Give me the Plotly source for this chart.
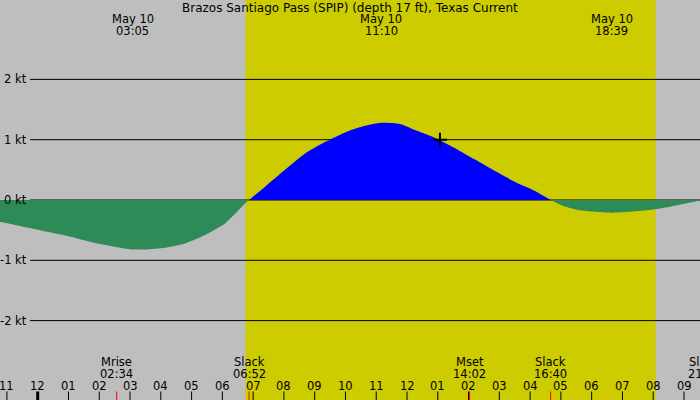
import plotly.graph_objects as go

# hours after midnight May 10, current in knots
ebb1_t = [-1.225, -0.575, 0.075, 0.725, 1.375, 2.025, 2.674, 3.083, 3.487, 4.137, 4.787, 5.437, 6.087, 6.737, 6.867]
ebb1_v = [-0.36, -0.43, -0.50, -0.57, -0.65, -0.73, -0.79, -0.82, -0.82, -0.79, -0.72, -0.58, -0.39, -0.06, 0.0]

flood_t = [6.867, 7.387, 8.037, 8.687, 9.337, 9.987, 10.637, 11.167, 11.775, 12.262, 12.912, 13.562, 14.212, 14.862, 15.512, 16.162, 16.667]
flood_v = [0.0, 0.22, 0.50, 0.77, 0.96, 1.12, 1.23, 1.28, 1.26, 1.16, 1.03, 0.86, 0.67, 0.48, 0.30, 0.15, 0.0]

ebb2_t = [16.667, 17.08, 17.62, 18.65, 19.79, 20.55, 21.52]
ebb2_v = [0.0, -0.10, -0.17, -0.21, -0.17, -0.11, -0.01]

now_t = [13.07]
now_v = [1.0]

# daylight
sunrise = 6.75
sunset = 20.08

# hour ticks along the bottom
hour_vals = list(range(-1, 22))
hour_text = ["11", "12", "01", "02", "03", "04", "05", "06", "07", "08", "09", "10",
             "11", "12", "01", "02", "03", "04", "05", "06", "07", "08", "09"]

# events along the bottom
event_names = ["Mrise", "Slack", "Mset", "Slack", "Slack"]
event_times = ["02:34", "06:52", "14:02", "16:40", "21:40"]
event_vals = [2.567, 6.867, 14.033, 16.667, 21.667]

# max current labels along the top
peak_dates = ["May 10", "May 10", "May 10"]
peak_times = ["03:05", "11:10", "18:39"]
peak_vals = [3.083, 11.167, 18.65]

kt_levels = [2, 1, 0, -1, -2]

x0, x1 = -1.225, 21.52
W, H = 700, 400
font = dict(family="DejaVu Sans", size=11.5, color="black")

fig = go.Figure()

fig.add_trace(go.Scatter(x=ebb1_t, y=ebb1_v, mode="lines", fill="tozeroy",
                         line=dict(width=0, shape="spline", smoothing=0.6),
                         fillcolor="#2e8b57", hoverinfo="skip"))
fig.add_trace(go.Scatter(x=flood_t, y=flood_v, mode="lines", fill="tozeroy",
                         line=dict(width=0, shape="spline", smoothing=0.6),
                         fillcolor="#0000ff", hoverinfo="skip"))
fig.add_trace(go.Scatter(x=ebb2_t, y=ebb2_v, mode="lines", fill="tozeroy",
                         line=dict(width=0, shape="spline", smoothing=0.6),
                         fillcolor="#2e8b57", hoverinfo="skip"))
fig.add_trace(go.Scatter(x=now_t, y=now_v, mode="markers",
                         marker=dict(symbol="cross-thin", size=10,
                                     line=dict(width=2, color="black")),
                         hoverinfo="skip"))

shapes = [dict(type="rect", xref="x", yref="paper", x0=sunrise, x1=sunset, y0=0, y1=1,
               fillcolor="#cccc00", line=dict(width=0), layer="below")]
for k in kt_levels:
    shapes.append(dict(type="line", xref="paper", yref="y", x0=30 / W, x1=1, y0=k, y1=k,
                       line=dict(color="black", width=1), layer="below"))
for h in hour_vals:
    shapes.append(dict(type="line", xref="x", yref="paper", x0=h, x1=h, y0=0, y1=8.5 / H,
                       line=dict(color="black", width=3 if h == 0 else 1)))
for t in event_vals:
    shapes.append(dict(type="line", xref="x", yref="paper", x0=t, x1=t, y0=0, y1=8.5 / H,
                       line=dict(color="red", width=1)))

ann = []
ann.append(dict(text="Brazos Santiago Pass (SPIP) (depth 17 ft), Texas Current",
                xref="paper", yref="paper", x=0.5, y=1 - 7.5 / H, showarrow=False,
                xanchor="center", yanchor="middle",
                font=dict(family="DejaVu Sans", size=12, color="black")))
for k in kt_levels:
    ann.append(dict(text=f"{k} kt", xref="paper", yref="y", x=28.5 / W, y=k,
                    showarrow=False, xanchor="right", yanchor="middle", font=font))
for h, s in zip(hour_vals, hour_text):
    ann.append(dict(text=s, xref="x", yref="paper", x=h, y=1 - 385.5 / H,
                    showarrow=False, xanchor="center", yanchor="middle", font=font))
for name, tm, t in zip(event_names, event_times, event_vals):
    px = (t - x0) / (x1 - x0)
    for s, yy in ((name, 361.5), (tm, 373.5)):
        ann.append(dict(text=s, xref="paper", yref="paper", x=px, y=1 - yy / H,
                        showarrow=False, xanchor="center", yanchor="middle", font=font))
for d, tm, t in zip(peak_dates, peak_times, peak_vals):
    for s, yy in ((d, 19.5), (tm, 31.5)):
        ann.append(dict(text=s, xref="x", yref="paper", x=t, y=1 - yy / H,
                        showarrow=False, xanchor="center", yanchor="middle", font=font))

fig.update_layout(
    width=W, height=H,
    margin=dict(l=0, r=0, t=0, b=0),
    paper_bgcolor="#bebebe", plot_bgcolor="#bebebe",
    showlegend=False,
    xaxis=dict(range=[x0, x1], visible=False, fixedrange=True),
    yaxis=dict(range=[-200 / 60.3, 200 / 60.3], visible=False, fixedrange=True),
    shapes=shapes, annotations=ann,
)

# drop the page's default body margin so the chart sits at the window corner
fig.write_html("out.html", config={"displayModeBar": False},
               post_script="document.body.style.margin='0';document.body.style.overflow='hidden';")
